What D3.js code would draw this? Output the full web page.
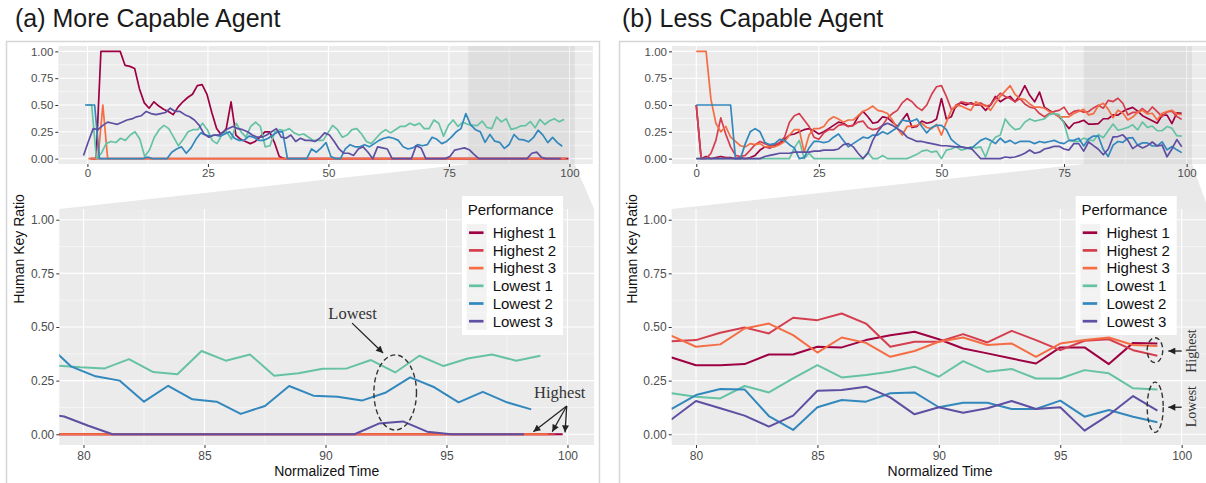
<!DOCTYPE html>
<html><head><meta charset="utf-8">
<script src="https://cdn.jsdelivr.net/npm/d3@7"></script>
<style>
html,body{margin:0;padding:0;background:#fff;}
svg{display:block;}
</style></head>
<body><svg id="chart" width="1206" height="483"></svg>
<script>
// ---------------- data ----------------
const seriesNames = ["Highest 1","Highest 2","Highest 3","Lowest 1","Lowest 2","Lowest 3"];
const seriesColors = ["#9E0142","#D53E4F","#F46D43","#66C2A5","#3288BD","#5E4FA2"];
const overviewTicks = [0,25,50,75,100];
const zoomTicks = [80,85,90,95,100];
const yTicks = [0,0.25,0.5,0.75,1];
const yTickLabels = ["0.00","0.25","0.50","0.75","1.00"];
const zoomWindow = [79,101.1];
const panelTitles = ["(a) More Capable Agent","(b) Less Capable Agent"];
// per-series time offset (dodge) in panel (a); panel (b) has none
const offsetsA = [0.8,0.5,0.2,-0.12,-0.5,-0.8];
const offsetsB = [0,0,0,0,0,0];

// Panel (a): human key ratio at time steps 0..99
const aHighest1 = [0,0,1,1,1,1,1,0.87,0.86,0.84,
 0.65,0.52,0.47,0.53,0.49,0.46,0.44,0.41,0.48,0.53,
 0.57,0.6,0.68,0.69,0.6,0.43,0.28,0.22,0.28,0.53,
 0.22,0.18,0.16,0.14,0.16,0.2,0.25,0.25,0.15,0.02,
 0,0,0,0,0,0,0,0,0,0, 0,0,0,0,0,0,0,0,0,0,
 0,0,0,0,0,0,0,0,0,0, 0,0,0,0,0,0,0,0,0,0,
 0,0,0,0,0,0,0,0,0,0, 0,0,0,0,0,0,0,0,0,0];
const aHighest2 = [0,0,0,0,0,0,0,0,0,0, 0,0,0,0,0,0,0,0,0,0,
 0,0,0,0,0,0,0,0,0,0, 0,0,0,0,0,0,0,0,0,0,
 0,0,0,0,0,0,0,0,0,0, 0,0,0,0,0,0,0,0,0,0,
 0,0,0,0,0,0,0,0,0,0, 0,0,0,0,0,0,0,0,0,0,
 0,0,0,0,0,0,0,0,0,0, 0,0,0,0,0,0,0,0,0,0];
const aHighest3 = [0,0,0,0.5,0,0,0,0,0,0, 0,0,0,0,0,0,0,0,0,0,
 0,0,0,0,0,0,0,0,0,0, 0,0,0,0,0,0,0,0,0,0,
 0,0,0,0,0,0,0,0,0,0, 0,0,0,0,0,0,0,0,0,0,
 0,0,0,0,0,0,0,0,0,0, 0,0,0,0,0,0,0,0,0,0,
 0,0,0,0,0,0,0,0,0,0, 0,0,0,0,0,0,0,0,0,0];
const aLowest1 = [0.5,0.5,0,0.05,0.14,0.16,0.15,0.19,0.17,0.22,
 0.25,0.18,0.02,0.08,0.2,0.27,0.31,0.28,0.2,0.12,
 0.18,0.25,0.27,0.27,0.33,0.27,0.17,0.14,0.22,0.25,
 0.18,0.33,0.25,0.2,0.3,0.34,0.3,0.11,0.12,0.25,
 0.27,0.26,0.28,0.24,0.22,0.23,0.2,0.17,0.17,0.17,
 0.24,0.31,0.27,0.2,0.22,0.27,0.28,0.23,0.16,0.14,
 0.19,0.24,0.27,0.24,0.27,0.3,0.3,0.33,0.31,0.33,
 0.28,0.28,0.36,0.33,0.21,0.31,0.36,0.3,0.34,0.32,
 0.312,0.307,0.35,0.29,0.28,0.388,0.343,0.372,0.273,0.284,
 0.305,0.307,0.346,0.288,0.366,0.318,0.353,0.372,0.343,0.366];
const aLowest2 = [0.5,0.5,0.5,0,0,0,0,0,0,0,
 0,0,0,0.015,0,0,0,0,0.06,0.09,
 0.11,0.05,0.1,0.18,0.24,0.22,0.21,0.22,0.21,0.23,
 0.25,0.19,0.17,0.17,0.21,0.2,0.17,0.17,0.19,0.22,
 0.25,0.25,0,0,0,0,0,0.09,0.06,0.1,
 0.15,0.02,0,0,0.09,0.13,0.11,0.11,0.13,0.11,
 0.14,0.17,0.19,0.2,0.19,0.17,0.11,0.09,0.1,0.13,
 0.12,0.13,0.2,0.18,0.14,0.16,0.2,0.25,0.28,0.42,
 0.315,0.27,0.25,0.152,0.226,0.163,0.152,0.095,0.132,0.225,
 0.18,0.175,0.157,0.195,0.265,0.219,0.149,0.198,0.149,0.116];
const aLowest3 = [0.03,0.16,0.28,0.27,0.31,0.34,0.33,0.32,0.34,0.36,
 0.37,0.39,0.4,0.44,0.42,0.41,0.42,0.43,0.47,0.44,
 0.44,0.41,0.39,0.36,0.31,0.23,0.2,0.22,0.22,0.25,
 0.28,0.3,0.28,0.27,0.25,0.22,0.2,0.2,0.22,0.25,
 0.28,0.2,0.19,0.22,0.16,0.19,0.17,0.17,0.16,0.19,
 0.24,0.22,0.16,0.09,0.05,0.05,0.03,0.09,0.11,0.06,
 0,0.11,0.1,0.09,0,0,0,0,0,0.12,
 0.1,0,0,0,0,0,0.02,0.08,0.09,0.1,
 0.083,0.04,0,0,0,0,0,0,0,0,
 0,0,0,0.05,0.06,0.012,0,0,0,0];

// Panel (b): human key ratio at time steps 0..99
const bHighest1 = [0.5,0,0.02,0,0.01,0.02,0.01,0.01,0,0.01,
 0,0.01,0.03,0.08,0.11,0.1,0.12,0.14,0.18,0.22,
 0.23,0.25,0.27,0.28,0.26,0.23,0.25,0.28,0.31,0.34,
 0.33,0.3,0.31,0.39,0.44,0.39,0.33,0.34,0.39,0.38,
 0.34,0.3,0.36,0.42,0.29,0.3,0.35,0.33,0.34,0.37,
 0.56,0.37,0.39,0.5,0.52,0.5,0.52,0.5,0.5,0.45,
 0.5,0.58,0.53,0.56,0.58,0.53,0.59,0.68,0.59,0.53,
 0.62,0.48,0.45,0.42,0.39,0.34,0.28,0.33,0.34,0.358,
 0.322,0.322,0.327,0.372,0.372,0.408,0.405,0.439,0.462,0.478,
 0.443,0.4,0.377,0.353,0.33,0.405,0.405,0.327,0.426,0.423];
const bHighest2 = [0.5,0,0,0.05,0.17,0.38,0.23,0.11,0.03,0.02,
 0.03,0.08,0.13,0.16,0.14,0.12,0.13,0.15,0.2,0.34,
 0.4,0.42,0.36,0.3,0.2,0.18,0.24,0.27,0.27,0.31,
 0.32,0.3,0.31,0.34,0.35,0.29,0.27,0.28,0.31,0.38,
 0.42,0.45,0.52,0.56,0.53,0.48,0.45,0.5,0.6,0.67,
 0.68,0.58,0.46,0.48,0.53,0.52,0.51,0.5,0.52,0.49,
 0.5,0.56,0.61,0.58,0.56,0.53,0.56,0.51,0.48,0.47,
 0.42,0.39,0.42,0.44,0.45,0.48,0.41,0.44,0.45,0.434,
 0.439,0.473,0.498,0.47,0.543,0.532,0.563,0.516,0.408,0.431,
 0.431,0.467,0.428,0.482,0.439,0.392,0.436,0.443,0.392,0.366];
const bHighest3 = [1,1,1,0.55,0.33,0.25,0.3,0.2,0.16,0.12,
 0.11,0.14,0.13,0.14,0.11,0.11,0.11,0.13,0.16,0.22,
 0.27,0.27,0.06,0.22,0.28,0.28,0.3,0.36,0.39,0.37,
 0.34,0.36,0.36,0.4,0.44,0.46,0.49,0.45,0.44,0.42,
 0.36,0.28,0.22,0.3,0.3,0.31,0.33,0.29,0.28,0.32,
 0.22,0.34,0.45,0.5,0.49,0.47,0.45,0.53,0.5,0.5,
 0.45,0.52,0.58,0.63,0.68,0.6,0.56,0.55,0.51,0.48,
 0.48,0.47,0.44,0.42,0.39,0.39,0.39,0.42,0.44,0.459,
 0.408,0.419,0.493,0.516,0.462,0.381,0.451,0.426,0.361,0.388,
 0.431,0.451,0.416,0.423,0.361,0.423,0.439,0.451,0.416,0.411];
const bLowest1 = [0,0,0,0,0,0,0,0,0,0,
 0,0,0,0,0,0,0,0,0,0,
 0.1,0.17,0,0.05,0,0,0,0,0,0,
 0,0,0,0,0,0.06,0,0,0.03,0,
 0,0,0,0,0.02,0.04,0.07,0.08,0.06,0.07,
 0,0.08,0.09,0.11,0.08,0.09,0.11,0.1,0.11,0.015,
 0.14,0.2,0.22,0.37,0.31,0.27,0.28,0.34,0.37,0.35,
 0.36,0.37,0.41,0.42,0.41,0.33,0.17,0.16,0.16,0.191,
 0.175,0.167,0.225,0.195,0.26,0.322,0.265,0.276,0.291,0.315,
 0.268,0.341,0.291,0.304,0.26,0.26,0.299,0.284,0.214,0.209];
const bLowest2 = [0.5,0.5,0.5,0.5,0.5,0.5,0.5,0.5,0,0,
 0.14,0.25,0.28,0.25,0.15,0.13,0.14,0.18,0.17,0.13,
 0.1,0,0.01,0.1,0.16,0.16,0.15,0.16,0.2,0.23,
 0.17,0.11,0.14,0.17,0.2,0.19,0.22,0.22,0.25,0.23,
 0.26,0.29,0.36,0.35,0.35,0.37,0.3,0.24,0.29,0.31,
 0.31,0.27,0.18,0.14,0.11,0.1,0.09,0.13,0.17,0.19,
 0.17,0.14,0.19,0.15,0.17,0.14,0.16,0.16,0.16,0.14,
 0.16,0.15,0.16,0.17,0.15,0.14,0.17,0.17,0.19,0.118,
 0.183,0.211,0.209,0.085,0.02,0.126,0.16,0.152,0.191,0.195,
 0.126,0.147,0.147,0.118,0.118,0.157,0.082,0.113,0.082,0.056];
const bLowest3 = [0,0,0,0,0,0,0,0,0,0,
 0,0,0,0,0.02,0.03,0.04,0.05,0.05,0.05,
 0.06,0.06,0.06,0.06,0.07,0.07,0.08,0.08,0.08,0.09,
 0.13,0.14,0.11,0.05,0,0.05,0.17,0.25,0.31,0.33,
 0.31,0.28,0.25,0.2,0.18,0.16,0.16,0.15,0.14,0.13,
 0.12,0.12,0.115,0.11,0.11,0.1,0.1,0.05,0,0,
 0,0,0,0.015,0.01,0.015,0.03,0.05,0.08,0.05,
 0.06,0.09,0.1,0.115,0.115,0.09,0.08,0.14,0.14,0.07,
 0.155,0.121,0.087,0.036,0.087,0.203,0.206,0.222,0.172,0.093,
 0.126,0.1,0.121,0.155,0.118,0.126,0.017,0.09,0.178,0.11];

// ---------------- drawing ----------------
const svg = d3.select("#chart");
const sans = "'Liberation Sans', Arial, Helvetica, sans-serif";
const serif = "'Liberation Serif', 'Times New Roman', serif";

const defs = svg.append("defs");
defs.append("marker").attr("id","ah").attr("viewBox","0 0 10 10")
  .attr("refX",10).attr("refY",5).attr("markerWidth",8).attr("markerHeight",7)
  .attr("markerUnits","userSpaceOnUse").attr("orient","auto")
  .append("path").attr("d","M0,0 L10,5 L0,10 Z").attr("fill","#222");

const panels = [
  { key:"a", series:[aHighest1,aHighest2,aHighest3,aLowest1,aLowest2,aLowest3], offsets:offsetsA,
    frame:[6.5,41.5,593,470], titleX:15,
    topDomain:[-6.04,104.84], topRange:[58.3,592.8], botRange:[59.3,594.1],
    legendX:462, yTitleX:18.5,
    ellipses:[{t:92.88,v:0.195,rt:0.88,rv:0.175}],
    arrows:[{t0:91.1,v0:0.518,t1:92.38,v1:0.379},
            {t0:99.97,v0:0.132,t1:98.59,v1:0.012},
            {t0:99.97,v0:0.132,t1:99.37,v1:0.012},
            {t0:99.97,v0:0.132,t1:99.9,v1:0.009}],
    labels:[{text:"Lowest",t:91.12,v:0.538,size:16.5,rot:false},
            {text:"Highest",t:99.68,v:0.17,size:16.5,rot:false}] },
  { key:"b", series:[bHighest1,bHighest2,bHighest3,bLowest1,bLowest2,bLowest3], offsets:offsetsB,
    frame:[619.5,41.5,600,470], titleX:622,
    topDomain:[-4.95,103.95], topRange:[672,1206], botRange:[671.7,1208.4],
    legendX:1075.7, yTitleX:632,
    ellipses:[{t:98.9,v:0.392,rt:0.32,rv:0.058},{t:98.91,v:0.126,rt:0.33,rv:0.117}],
    arrows:[{t0:100.0,v0:0.388,t1:99.45,v1:0.388},{t0:100.0,v0:0.126,t1:99.45,v1:0.126}],
    labels:[{text:"Highest",t:100.41,v:0.388,size:14,rot:true},
            {text:"Lowest",t:100.41,v:0.129,size:14,rot:true}] }
];

const TOP = {y0:46, y1:164};
const BOT = {y0:209, y1:445};

function gridAndAxes(g, xs, ys, xTicks, xMinor, yMinor){
  const [xa,xb] = xs.range(), [ya,yb] = [ys.range()[1], ys.range()[0]];
  g.append("rect").attr("x",xa).attr("y",ya).attr("width",xb-xa).attr("height",yb-ya).attr("fill","#EBEBEB");
  yMinor.forEach(v=>g.append("line").attr("x1",xa).attr("x2",xb).attr("y1",ys(v)).attr("y2",ys(v)).attr("stroke","#fff").attr("stroke-width",0.55));
  xMinor.forEach(v=>g.append("line").attr("y1",ya).attr("y2",yb).attr("x1",xs(v)).attr("x2",xs(v)).attr("stroke","#fff").attr("stroke-width",0.55));
  yTicks.forEach(v=>g.append("line").attr("x1",xa).attr("x2",xb).attr("y1",ys(v)).attr("y2",ys(v)).attr("stroke","#fff").attr("stroke-width",1.1));
  xTicks.forEach(v=>g.append("line").attr("y1",ya).attr("y2",yb).attr("x1",xs(v)).attr("x2",xs(v)).attr("stroke","#fff").attr("stroke-width",1.1));
}

function styleAxis(ax, fs){
  ax.select(".domain").remove();
  ax.selectAll(".tick line").attr("stroke","#333").attr("stroke-width",1);
  ax.selectAll(".tick text").attr("fill","#4D4D4D").style("font-family",sans).style("font-size",fs+"px");
}

panels.forEach((p,pi)=>{
  const g = svg.append("g");
  // outer frame
  g.append("rect").attr("x",p.frame[0]).attr("y",p.frame[1]).attr("width",p.frame[2]).attr("height",p.frame[3])
    .attr("fill","none").attr("stroke","#d6d6d6").attr("stroke-width",1.5);
  g.append("text").attr("x",p.titleX).attr("y",27).text(panelTitles[pi])
    .style("font-family",sans).style("font-size","25px").attr("fill","#1a1a1a");

  const yTop = d3.scaleLinear().domain([-0.05,1.05]).range([TOP.y1,TOP.y0]);
  const yBot = d3.scaleLinear().domain([-0.05,1.05]).range([BOT.y1,BOT.y0]);
  const xTop = d3.scaleLinear().domain(p.topDomain).range(p.topRange);
  const xBot = d3.scaleLinear().domain(zoomWindow).range(p.botRange);

  // wedge connecting the zoom window to the lower panel
  const wedge = [[xTop(zoomWindow[0]),TOP.y1],[xTop(zoomWindow[1]),TOP.y1],[p.botRange[1],BOT.y0],[p.botRange[0],BOT.y0]];
  g.append("polygon").attr("points",wedge.map(d=>d.join(",")).join(" ")).attr("fill","#e9e9e9");

  // ----- top overview panel -----
  const gt = g.append("g");
  gridAndAxes(gt, xTop, yTop, overviewTicks, [12.5,37.5,62.5,87.5], [0.125,0.375,0.625,0.875]);
  gt.append("rect").attr("x",xTop(zoomWindow[0])).attr("y",TOP.y0)
    .attr("width",xTop(zoomWindow[1])-xTop(zoomWindow[0])).attr("height",TOP.y1-TOP.y0)
    .attr("fill","#000").attr("opacity",0.055);
  const cidT = "clipT"+p.key;
  defs.append("clipPath").attr("id",cidT).append("rect").attr("x",p.topRange[0]).attr("y",TOP.y0)
    .attr("width",p.topRange[1]-p.topRange[0]).attr("height",TOP.y1-TOP.y0);
  const lt = gt.append("g").attr("clip-path","url(#"+cidT+")");
  p.series.forEach((s,i)=>{
    const line = d3.line().x((d,k)=>xTop(k+p.offsets[i])).y(d=>yTop(d));
    lt.append("path").attr("d",line(s)).attr("fill","none").attr("stroke",seriesColors[i])
      .attr("stroke-width",1.7).attr("stroke-linejoin","round");
  });
  const axTL = gt.append("g").attr("transform","translate("+p.topRange[0]+",0)")
    .call(d3.axisLeft(yTop).tickValues(yTicks).tickFormat((d,i)=>yTickLabels[i]).tickSize(3).tickPadding(2));
  styleAxis(axTL,11.5);
  const axTB = gt.append("g").attr("transform","translate(0,"+TOP.y1+")")
    .call(d3.axisBottom(xTop).tickValues(overviewTicks).tickSize(3).tickPadding(2));
  styleAxis(axTB,11.5);

  // ----- bottom zoom panel -----
  const gb = g.append("g");
  gridAndAxes(gb, xBot, yBot, zoomTicks, [82.5,87.5,92.5,97.5], [0.125,0.375,0.625,0.875]);
  const cidB = "clipB"+p.key;
  defs.append("clipPath").attr("id",cidB).append("rect").attr("x",p.botRange[0]).attr("y",BOT.y0)
    .attr("width",p.botRange[1]-p.botRange[0]).attr("height",BOT.y1-BOT.y0);
  const lb = gb.append("g").attr("clip-path","url(#"+cidB+")");
  p.series.forEach((s,i)=>{
    const line = d3.line().x((d,k)=>xBot(k+p.offsets[i])).y(d=>yBot(d));
    lb.append("path").attr("d",line(s)).attr("fill","none").attr("stroke",seriesColors[i])
      .attr("stroke-width",2).attr("stroke-linejoin","round");
  });
  const axBL = gb.append("g").attr("transform","translate("+p.botRange[0]+",0)")
    .call(d3.axisLeft(yBot).tickValues(yTicks).tickFormat((d,i)=>yTickLabels[i]).tickSize(3).tickPadding(2));
  styleAxis(axBL,12);
  const axBB = gb.append("g").attr("transform","translate(0,"+BOT.y1+")")
    .call(d3.axisBottom(xBot).tickValues(zoomTicks).tickSize(3).tickPadding(3));
  styleAxis(axBB,12);

  // axis titles
  g.append("text").attr("transform","translate("+p.yTitleX+",249) rotate(-90)")
    .attr("text-anchor","middle").attr("dominant-baseline","central").text("Human Key Ratio")
    .style("font-family",sans).style("font-size","14px").attr("fill","#111");
  g.append("text").attr("x",(p.botRange[0]+p.botRange[1])/2).attr("y",476).attr("text-anchor","middle")
    .text("Normalized Time").style("font-family",sans).style("font-size","14px").attr("fill","#111");

  // annotations
  p.ellipses.forEach(e=>{
    g.append("ellipse").attr("cx",xBot(e.t)).attr("cy",yBot(e.v))
      .attr("rx",xBot(e.t+e.rt)-xBot(e.t)).attr("ry",yBot(e.v)-yBot(e.v+e.rv))
      .attr("fill","none").attr("stroke","#333").attr("stroke-width",1.4).attr("stroke-dasharray","5,3");
  });
  p.arrows.forEach(a=>{
    g.append("line").attr("x1",xBot(a.t0)).attr("y1",yBot(a.v0)).attr("x2",xBot(a.t1)).attr("y2",yBot(a.v1))
      .attr("stroke","#222").attr("stroke-width",1.3).attr("marker-end","url(#ah)");
  });
  p.labels.forEach(l=>{
    const t = g.append("text").text(l.text).style("font-family",serif).style("font-size",l.size+"px")
      .attr("fill","#333").attr("text-anchor","middle");
    if(l.rot){
      t.attr("dominant-baseline","central").attr("transform","translate("+xBot(l.t)+","+yBot(l.v)+") rotate(-90)");
    } else {
      t.attr("x",xBot(l.t)).attr("y",yBot(l.v));
    }
  });

  // legend
  const lx = p.legendX;
  const lg = g.append("g");
  lg.append("rect").attr("x",lx).attr("y",196).attr("width",101).attr("height",139).attr("fill","#fff");
  lg.append("text").attr("x",lx+5.7).attr("y",214.5).text("Performance")
    .style("font-family",sans).style("font-size","15px").attr("fill","#111");
  seriesNames.forEach((n,i)=>{
    const cy = 232.7 + i*17.7;
    lg.append("rect").attr("x",lx+4.7).attr("y",cy-8.85).attr("width",20).attr("height",17.7).attr("fill","#F2F2F2");
    lg.append("line").attr("x1",lx+7).attr("x2",lx+21.5).attr("y1",cy).attr("y2",cy)
      .attr("stroke",seriesColors[i]).attr("stroke-width",2.7);
    lg.append("text").attr("x",lx+30.7).attr("y",cy+5.3).text(n)
      .style("font-family",sans).style("font-size","15px").attr("fill","#111");
  });
});
</script>
</body></html>
